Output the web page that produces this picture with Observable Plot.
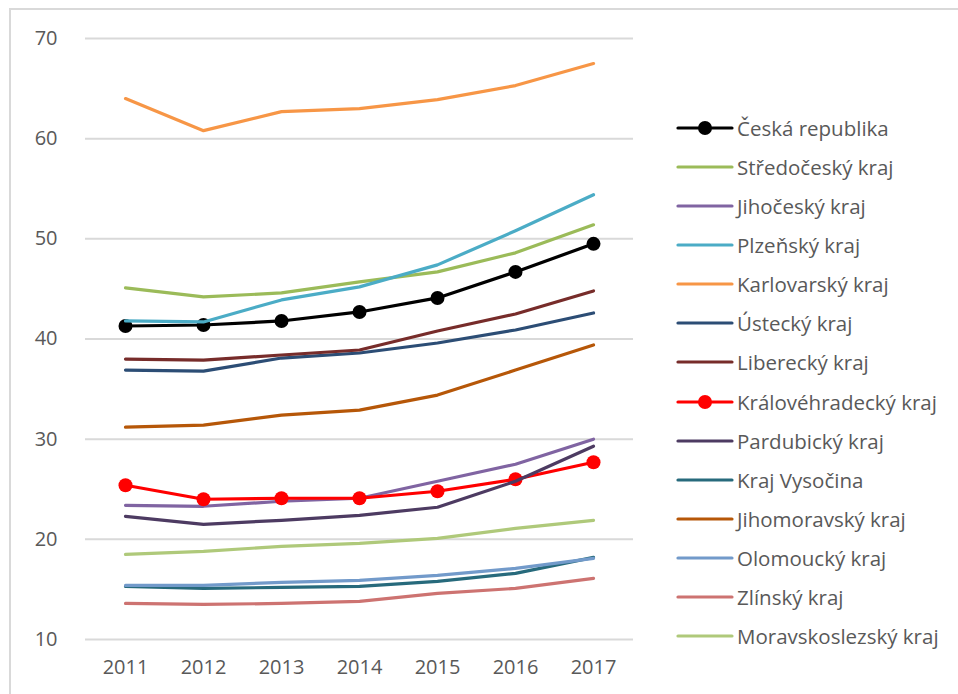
<!DOCTYPE html>
<html>
<head>
<meta charset="utf-8">
<script src="https://cdn.jsdelivr.net/npm/d3@7"></script>
<script src="https://cdn.jsdelivr.net/npm/@observablehq/plot@0.6"></script>
<style>
  html, body { margin: 0; padding: 0; background: #fff; }
  #wrap { position: relative; width: 958px; height: 694px; overflow: hidden; font-family: "Open Sans", sans-serif; }
  #frame { position: absolute; left: 9px; top: 8px; width: 1000px; height: 800px; border-left: 2px solid #d9d9d9; border-top: 2px solid #d9d9d9; }
  #chart { position: absolute; left: 0; top: 0; }
  #legend { position: absolute; left: 0; top: 0; width: 958px; height: 694px; }
  .row { position: absolute; left: 676px; height: 30px; display: flex; align-items: center; }
  .row span { font-size: 20.5px; color: #595959; margin-left: 3px; white-space: nowrap; }
</style>
</head>
<body>
<div id="wrap">
  <div id="frame"></div>
  <div id="chart"></div>
  <div id="legend"></div>
</div>
<script>
const years = ["2011", "2012", "2013", "2014", "2015", "2016", "2017"];
const yTicks = [10, 20, 30, 40, 50, 60, 70];

const seriesNames = [
  "Česká republika", "Středočeský kraj", "Jihočeský kraj", "Plzeňský kraj",
  "Karlovarský kraj", "Ústecký kraj", "Liberecký kraj", "Královéhradecký kraj",
  "Pardubický kraj", "Kraj Vysočina", "Jihomoravský kraj", "Olomoucký kraj",
  "Zlínský kraj", "Moravskoslezský kraj"
];
const seriesColors = [
  "#000000", "#9BBB59", "#8064A2", "#4BACC6",
  "#F79646", "#2C4D75", "#772C2A", "#FF0000",
  "#4D3B62", "#276A7C", "#B65708", "#729ACA",
  "#CD7371", "#AFC97A"
];
const markerSeries = ["Česká republika", "Královéhradecký kraj"];

const ceskaRepublika   = [41.3, 41.4, 41.8, 42.7, 44.1, 46.7, 49.5];
const stredocesky      = [45.1, 44.2, 44.6, 45.7, 46.7, 48.6, 51.4];
const jihocesky        = [23.4, 23.3, 23.8, 24.1, 25.8, 27.5, 30.0];
const plzensky         = [41.8, 41.7, 43.9, 45.2, 47.4, 50.8, 54.4];
const karlovarsky      = [64.0, 60.8, 62.7, 63.0, 63.9, 65.3, 67.5];
const ustecky          = [36.9, 36.8, 38.1, 38.6, 39.6, 40.9, 42.6];
const liberecky        = [38.0, 37.9, 38.4, 38.9, 40.8, 42.5, 44.8];
const kralovehradecky  = [25.4, 24.0, 24.1, 24.1, 24.8, 26.0, 27.7];
const pardubicky       = [22.3, 21.5, 21.9, 22.4, 23.2, 25.8, 29.3];
const vysocina         = [15.3, 15.1, 15.2, 15.3, 15.8, 16.6, 18.2];
const jihomoravsky     = [31.2, 31.4, 32.4, 32.9, 34.4, 36.9, 39.4];
const olomoucky        = [15.4, 15.4, 15.7, 15.9, 16.4, 17.1, 18.1];
const zlinsky          = [13.6, 13.5, 13.6, 13.8, 14.6, 15.1, 16.1];
const moravskoslezsky  = [18.5, 18.8, 19.3, 19.6, 20.1, 21.1, 21.9];

const seriesValues = [
  ceskaRepublika, stredocesky, jihocesky, plzensky, karlovarsky, ustecky,
  liberecky, kralovehradecky, pardubicky, vysocina, jihomoravsky, olomoucky,
  zlinsky, moravskoslezsky
];

const data = [];
seriesNames.forEach((name, i) => {
  years.forEach((yr, j) => data.push({series: name, year: yr, value: seriesValues[i][j], order: i}));
});

const chart = Plot.plot({
  width: 958,
  height: 694,
  marginLeft: 85,
  marginRight: 325,
  marginTop: 38,
  marginBottom: 55,
  style: {fontFamily: "'Open Sans', sans-serif", fontSize: "20px", color: "#595959", background: "transparent"},
  x: {type: "point", domain: years, padding: 0.5, label: null},
  y: {domain: [10, 70], label: null},
  color: {domain: seriesNames, range: seriesColors},
  marks: [
    Plot.gridY(yTicks, {stroke: "#d9d9d9", strokeOpacity: 1, strokeWidth: 2}),
    Plot.axisY(yTicks, {tickSize: 0, tickPadding: 28, label: null, fontSize: 20, fill: "#595959"}),
    Plot.axisX({tickSize: 0, tickPadding: 20, label: null, fontSize: 20, fill: "#595959"}),
    ...seriesNames.flatMap((name, i) => {
      const sd = data.filter(d => d.series === name);
      const ms = [Plot.lineY(sd, {x: "year", y: "value", stroke: seriesColors[i], strokeWidth: 3.2, strokeLinejoin: "round", strokeLinecap: "round"})];
      if (markerSeries.includes(name)) {
        ms.push(Plot.dot(sd, {x: "year", y: "value", r: 7, fill: seriesColors[i], stroke: "none"}));
      }
      return ms;
    })
  ]
});
document.getElementById("chart").appendChild(chart);

const legend = document.getElementById("legend");
seriesNames.forEach((name, i) => {
  const cy = 127.5 + i * 39.15;
  const row = document.createElement("div");
  row.className = "row";
  row.style.top = (cy - 15) + "px";
  const hasMarker = markerSeries.includes(name);
  row.innerHTML =
    `<svg width="58" height="30"><line x1="2" y1="15" x2="56" y2="15" stroke="${seriesColors[i]}" stroke-width="3.2" stroke-linecap="round"/>` +
    (hasMarker ? `<circle cx="29" cy="15" r="7" fill="${seriesColors[i]}"/>` : "") +
    `</svg><span>${name}</span>`;
  legend.appendChild(row);
});
</script>
</body>
</html>
